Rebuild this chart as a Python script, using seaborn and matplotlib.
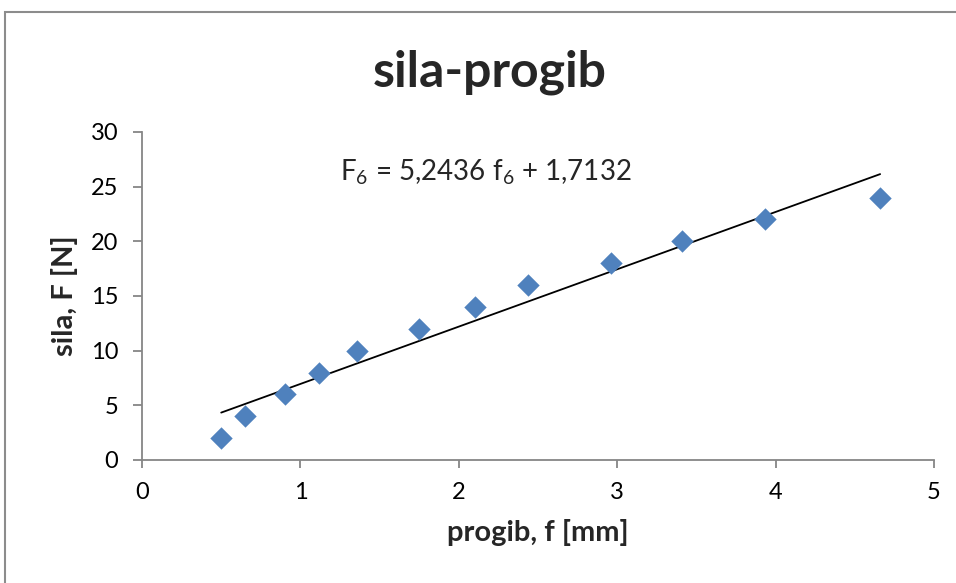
import matplotlib
matplotlib.use("Agg")
import matplotlib.pyplot as plt
import seaborn as sns
import numpy as np
import pandas as pd
from matplotlib.patches import Rectangle

# Data
progib = [0.50, 0.65, 0.90, 1.12, 1.36, 1.75, 2.10, 2.44, 2.96, 3.41, 3.93, 4.66]
sila = [2, 4, 6, 8, 10, 12, 14, 16, 18, 20, 22, 24]
slope = 5.2436
intercept = 1.7132
x_ticks = [0, 1, 2, 3, 4, 5]
y_ticks = [0, 5, 10, 15, 20, 25, 30]
title = "sila-progib"
x_label = "progib, f [mm]"
y_label = "sila, F [N]"
equation = "F$_6$ = 5,2436 f$_6$ + 1,7132"

sns.set_theme(style="white")
FONT = "Lato"
plt.rcParams['font.family'] = [FONT, 'DejaVu Sans']
plt.rcParams['mathtext.fontset'] = 'custom'
plt.rcParams['mathtext.rm'] = FONT
plt.rcParams['mathtext.it'] = FONT

df = pd.DataFrame({"progib": progib, "sila": sila})

fig = plt.figure(figsize=(9.56, 5.83), dpi=100)
ax = fig.add_axes([142/956, 1-460/583, (934-142)/956, (460-132)/583])

# outer chart border (cropped frame)
fig.patches.append(Rectangle((5/956, -0.1), 1.2, 1 - 12/583 + 0.1, transform=fig.transFigure,
                             fill=False, edgecolor="#8c8c8c", linewidth=1.5))

sns.scatterplot(data=df, x="progib", y="sila", ax=ax, marker="D", s=130,
                color="#4F81BD", edgecolor="#4F81BD", linewidth=0, zorder=3)

xl = np.array([min(progib), max(progib)])
sns.lineplot(x=xl, y=slope * xl + intercept, ax=ax, color="black", linewidth=1.3, zorder=2)

ax.set_xlim(0, 5)
ax.set_ylim(0, 30)
ax.set_xticks(x_ticks)
ax.set_yticks(y_ticks)
ax.set_xticklabels([str(t) for t in x_ticks])
ax.set_yticklabels([str(t) for t in y_ticks])

for s in ["top", "right"]:
    ax.spines[s].set_visible(False)
for s in ["left", "bottom"]:
    ax.spines[s].set_color("#868686")
    ax.spines[s].set_linewidth(1.3)

ax.tick_params(axis="both", which="major", direction="out", width=1.3,
               color="#868686", labelsize=17, labelcolor="black", left=True, bottom=True)
ax.tick_params(axis="x", length=5.5, pad=10)
ax.tick_params(axis="y", length=6.5, pad=10.5)

ax.set_xlabel(x_label, fontsize=21, fontweight="bold", labelpad=12)
ax.set_ylabel(y_label, fontsize=21, fontweight="bold", labelpad=9)

fig.text(490/956, 1-72/583, title, ha="center", va="center", fontsize=36, fontweight="bold")

ax.text((340-142)/(934-142), 1-(172-132)/(460-132), equation, transform=ax.transAxes,
        ha="left", va="center", fontsize=20)

fig.savefig("out.png", dpi=100)
